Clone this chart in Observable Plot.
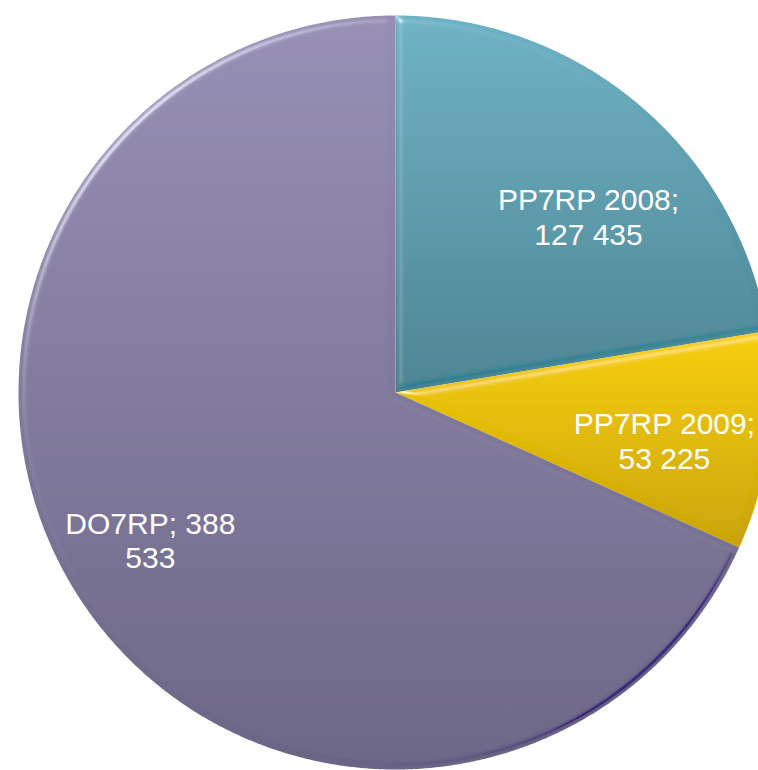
<!DOCTYPE html>
<html>
<head>
<meta charset="utf-8">
<script src="https://cdn.jsdelivr.net/npm/d3@7"></script>
<script src="https://cdn.jsdelivr.net/npm/@observablehq/plot@0.6"></script>
<style>
  html, body { margin: 0; padding: 0; background: #fff; overflow: hidden; }
  #chart { width: 758px; height: 770px; }
</style>
</head>
<body>
<div id="chart"></div>
<script>
// ---- data ----
const categories = ["PP7RP 2008", "PP7RP 2009", "DO7RP"];
const values = [127435, 53225, 388533];
const colorsTop = ["#6db2c4", "#f6ce00", "#968eb4"];
const colorsBottom = ["#4a8392", "#c9a400", "#6b6585"];

// ---- layout ----
const W = 758, H = 770;
const cx = 395, cy = 392, R = 377;
const labelRadius = 0.73;
const labelShift = [[15, 34], [-4, 12], [-14, -2]];

const fmt = d3.formatLocale({decimal: ",", thousands: " ", grouping: [3], currency: ["", ""]}).format(",d");

function wrap(text, maxChars) {
  const words = text.split(" ");
  const lines = [];
  let cur = "";
  for (const w of words) {
    if (!cur) cur = w;
    else if ((cur + " " + w).length <= maxChars) cur += " " + w;
    else { lines.push(cur); cur = w; }
  }
  if (cur) lines.push(cur);
  return lines.join("\n");
}

const pie = d3.pie().sort(null).value(d => d.value)(
  categories.map((c, i) => ({category: c, value: values[i], i}))
);

// polygon points for each slice (angle measured clockwise from 12 o'clock)
const pts = [];
for (const p of pie) {
  const n = Math.max(8, Math.ceil((p.endAngle - p.startAngle) / 0.005));
  pts.push({i: p.data.i, x: cx, y: cy});
  for (let k = 0; k <= n; k++) {
    const a = p.startAngle + (p.endAngle - p.startAngle) * k / n;
    pts.push({i: p.data.i, x: cx + R * Math.sin(a), y: cy - R * Math.cos(a)});
  }
  pts.push({i: p.data.i, x: cx, y: cy});
}

const labelsData = pie.map(p => {
  const a = (p.startAngle + p.endAngle) / 2;
  return {
    i: p.data.i,
    x: cx + R * labelRadius * Math.sin(a),
    y: cy - R * labelRadius * Math.cos(a),
    text: wrap(`${p.data.category}; ${fmt(p.data.value)}`, 11)
  };
});

const marks = [];
categories.forEach((c, i) => {
  marks.push(Plot.line(pts.filter(d => d.i === i), {
    x: "x", y: "y", fill: `url(#grad${i})`, stroke: "none", curve: "linear"
  }));
});
labelsData.forEach(d => {
  marks.push(Plot.text([d], {
    x: "x", y: "y", text: "text", fill: "white",
    fontSize: 30, lineHeight: 1.16, lineAnchor: "middle", textAnchor: "middle",
    dx: labelShift[d.i][0], dy: labelShift[d.i][1]
  }));
});

const chart = Plot.plot({
  width: W, height: H,
  margin: 0,
  x: {domain: [0, W], range: [0, W], axis: null},
  y: {domain: [0, H], range: [0, H], axis: null},
  style: {fontFamily: "'Liberation Sans', Arial, sans-serif", background: "white", overflow: "hidden"},
  marks
});

// gradients + bevel filter
const ns = "http://www.w3.org/2000/svg";
const defs = document.createElementNS(ns, "defs");
let html = "";
categories.forEach((c, i) => {
  html += `<linearGradient id="grad${i}" x1="0" y1="0" x2="0" y2="1">
    <stop offset="0" stop-color="${colorsTop[i]}"/>
    <stop offset="1" stop-color="${colorsBottom[i]}"/>
  </linearGradient>`;
});
html += `<filter id="bevel" x="-5%" y="-5%" width="110%" height="110%">
  <feGaussianBlur in="SourceAlpha" stdDeviation="3.5" result="blur"/>
  <feSpecularLighting in="blur" surfaceScale="4" specularConstant="0.7" specularExponent="40" lighting-color="#ffffff" result="spec">
    <feDistantLight azimuth="225" elevation="40"/>
  </feSpecularLighting>
  <feComposite in="spec" in2="SourceAlpha" operator="in" result="specIn"/>
  <feSpecularLighting in="blur" surfaceScale="4" specularConstant="0.7" specularExponent="40" lighting-color="#ffffff" result="shade">
    <feDistantLight azimuth="45" elevation="40"/>
  </feSpecularLighting>
  <feComposite in="shade" in2="SourceAlpha" operator="in" result="shadeIn"/>
  <feComposite in="SourceGraphic" in2="specIn" operator="arithmetic" k1="0" k2="1" k3="0.7" k4="0" result="lit"/>
  <feComposite in="lit" in2="shadeIn" operator="arithmetic" k1="0" k2="1" k3="-0.28" k4="0"/>
</filter>`;
defs.innerHTML = html;
chart.insertBefore(defs, chart.firstChild);
chart.querySelectorAll("g[aria-label='line']").forEach(g => g.setAttribute("filter", "url(#bevel)"));

document.getElementById("chart").append(chart);
</script>
</body>
</html>
